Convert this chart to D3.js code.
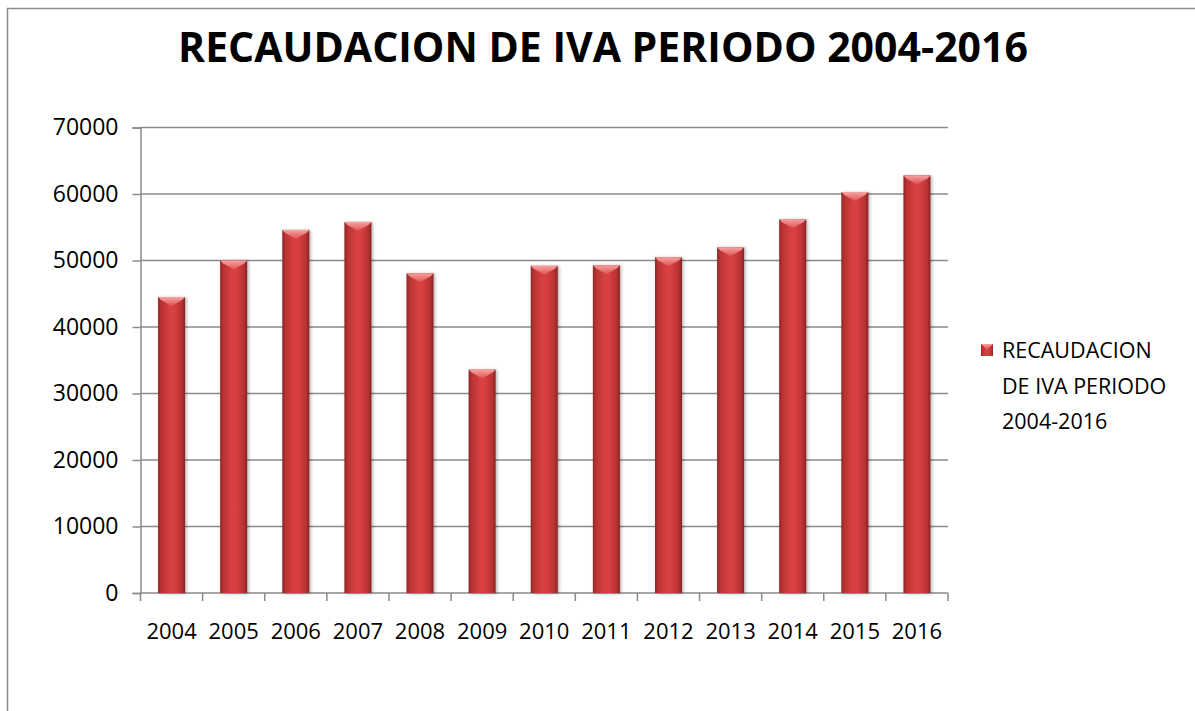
<!DOCTYPE html>
<html>
<head>
<meta charset="utf-8">
<script src="https://cdn.jsdelivr.net/npm/d3@7"></script>
<style>
  body { margin: 0; background: #fff; }
  svg { display: block; font-family: "Open Sans", "DejaVu Sans", sans-serif; }
</style>
</head>
<body>
<svg id="chart" width="1195" height="711"></svg>
<script>
// chart data
const years = ["2004", "2005", "2006", "2007", "2008", "2009", "2010",
               "2011", "2012", "2013", "2014", "2015", "2016"];
const recaudacion = [44500, 50000, 54600, 55800, 48100, 33600, 49200,
                     49300, 50500, 52000, 56200, 60300, 62800];
const yTicks = [0, 10000, 20000, 30000, 40000, 50000, 60000, 70000];
const titleText = "RECAUDACION DE IVA PERIODO 2004-2016";
const legendLines = ["RECAUDACION", "DE IVA PERIODO", "2004-2016"];

const svg = d3.select("#chart");
const plot = {left: 140.5, right: 948, top: 127.5, bottom: 593};
const gridColor = "#8a8a8a";

// outer chart border
svg.append("rect")
    .attr("x", 7.5).attr("y", 8.5)
    .attr("width", 1300).attr("height", 800)
    .attr("fill", "none")
    .attr("stroke", "#8c8c8c")
    .attr("stroke-width", 1.5);

const defs = svg.append("defs");

const body = defs.append("linearGradient").attr("id", "barBody")
    .attr("x1", "0").attr("x2", "1").attr("y1", "0").attr("y2", "0");
[[0, "#8e2727"], [0.12, "#ba3333"], [0.45, "#d94141"], [0.6, "#d73f3f"], [0.88, "#b73232"], [1, "#842424"]]
    .forEach(s => body.append("stop").attr("offset", s[0]).attr("stop-color", s[1]));

const bevel = defs.append("linearGradient").attr("id", "barBevel")
    .attr("x1", "0").attr("x2", "0").attr("y1", "0").attr("y2", "1");
[[0, "#f6a3a3"], [1, "#e05252"]]
    .forEach(s => bevel.append("stop").attr("offset", s[0]).attr("stop-color", s[1]));

defs.append("filter").attr("id", "shadow")
    .attr("x", "-20%").attr("y", "-5%").attr("width", "150%").attr("height", "110%")
    .append("feDropShadow")
    .attr("dx", 1.5).attr("dy", 0.5).attr("stdDeviation", 1.5)
    .attr("flood-color", "#000").attr("flood-opacity", 0.3);

const x = d3.scaleBand()
    .domain(years)
    .range([plot.left, plot.right])
    .paddingInner(0.565)
    .paddingOuter(0.2825);

const y = d3.scaleLinear()
    .domain([0, 70000])
    .range([plot.bottom, plot.top]);

// gridlines
svg.append("g")
    .selectAll("line")
    .data(yTicks.slice(1))
    .join("line")
    .attr("x1", plot.left).attr("x2", plot.right)
    .attr("y1", d => y(d)).attr("y2", d => y(d))
    .attr("stroke", gridColor)
    .attr("stroke-width", 1.5);

// y axis
const yAxis = svg.append("g")
    .attr("transform", `translate(${plot.left},0)`)
    .call(d3.axisLeft(y).tickValues(yTicks).tickSize(8).tickPadding(14).tickFormat(d3.format("d")));
yAxis.select(".domain").attr("stroke", gridColor).attr("stroke-width", 1.5);
yAxis.selectAll(".tick line").attr("stroke", gridColor).attr("stroke-width", 1.5);
yAxis.selectAll(".tick text")
    .attr("font-family", "'Open Sans', sans-serif")
    .attr("font-size", 23)
    .attr("fill", "#000");

// x axis baseline + boundary ticks
const step = x.step();
const bounds = d3.range(years.length + 1).map(i => plot.left + i * step);
svg.append("line")
    .attr("x1", plot.left).attr("x2", plot.right)
    .attr("y1", plot.bottom).attr("y2", plot.bottom)
    .attr("stroke", gridColor).attr("stroke-width", 1.5);
svg.append("g")
    .selectAll("line")
    .data(bounds)
    .join("line")
    .attr("x1", d => d).attr("x2", d => d)
    .attr("y1", plot.bottom).attr("y2", plot.bottom + 8)
    .attr("stroke", gridColor).attr("stroke-width", 1.5);

const xAxis = svg.append("g")
    .attr("transform", `translate(0,${plot.bottom})`)
    .call(d3.axisBottom(x).tickSize(0).tickPadding(30));
xAxis.select(".domain").remove();
xAxis.selectAll(".tick text")
    .attr("font-family", "'Open Sans', sans-serif")
    .attr("font-size", 22)
    .attr("fill", "#000");

// bars
const data = years.map((yr, i) => ({year: yr, value: recaudacion[i]}));
const bars = svg.append("g").selectAll("g").data(data).join("g");

bars.append("rect")
    .attr("x", d => x(d.year))
    .attr("y", d => y(d.value))
    .attr("width", x.bandwidth())
    .attr("height", d => y(0) - y(d.value))
    .attr("fill", "url(#barBody)")
    .attr("filter", "url(#shadow)");

bars.append("path")
    .attr("d", d => {
        const x0 = x(d.year), w = x.bandwidth(), t = y(d.value);
        return `M${x0},${t} L${x0 + w},${t} L${x0 + w - 3},${t + 3} L${x0 + w / 2},${t + 9} L${x0 + 3},${t + 3} Z`;
    })
    .attr("fill", "url(#barBevel)");

// title
svg.append("text")
    .attr("x", 603).attr("y", 62)
    .attr("text-anchor", "middle")
    .attr("font-family", "'Open Sans', sans-serif")
    .attr("font-weight", "bold")
    .attr("font-size", 41)
    .attr("fill", "#000")
    .text(titleText);

// legend
const legend = svg.append("g").attr("transform", "translate(981,344)");
legend.append("rect")
    .attr("width", 12).attr("height", 12)
    .attr("fill", "url(#barBody)");
legend.append("path")
    .attr("d", "M0,0 L12,0 L6,5.5 Z")
    .attr("fill", "url(#barBevel)");
legend.selectAll("text")
    .data(legendLines)
    .join("text")
    .attr("x", 21)
    .attr("y", (d, i) => 14 + i * 35.5)
    .attr("font-family", "'Open Sans', sans-serif")
    .attr("font-size", 21.5)
    .attr("fill", "#000")
    .text(d => d);
</script>
</body>
</html>
